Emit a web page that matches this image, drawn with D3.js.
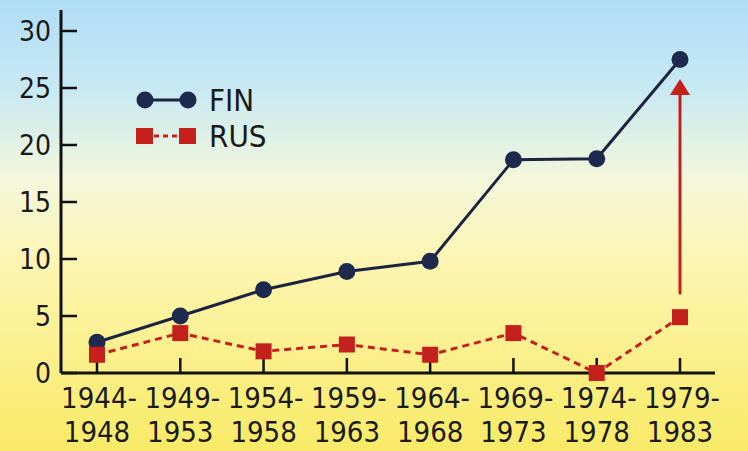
<!DOCTYPE html>
<html>
<head>
<meta charset="utf-8">
<script src="https://cdn.jsdelivr.net/npm/d3@7"></script>
<style>
  body { margin: 0; }
  text { font-family: "DejaVu Sans Condensed", "DejaVu Sans", sans-serif; fill: #1a1a1a; }
</style>
</head>
<body>
<div id="chart"></div>
<script>
// periods on the x axis, split in two lines
let periodStart = ["1944-", "1949-", "1954-", "1959-", "1964-", "1969-", "1974-", "1979-"];
let periodEnd = ["1948", "1953", "1958", "1963", "1968", "1973", "1978", "1983"];
let finValues = [2.7, 5.0, 7.3, 8.9, 9.8, 18.7, 18.8, 27.5];
let rusValues = [1.6, 3.5, 1.9, 2.5, 1.6, 3.5, 0, 4.9];
let yTicks = [0, 5, 10, 15, 20, 25, 30];
// red arrow over the last period (from, to)
let arrowRange = [6.9, 25.8];

let width = 748, height = 451;
let margin = {top: 10, right: 33, bottom: 78, left: 61};

let svg = d3.select("#chart").append("svg")
	.attr("width", width)
	.attr("height", height);

// background gradient
let grad = svg.append("defs").append("linearGradient")
	.attr("id", "bg")
	.attr("x1", 0).attr("y1", 0).attr("x2", 0).attr("y2", 1);
grad.append("stop").attr("offset", "0%").attr("stop-color", "#b0ddf6");
grad.append("stop").attr("offset", "20%").attr("stop-color", "#c8e9f3");
grad.append("stop").attr("offset", "40%").attr("stop-color", "#f4f7da");
grad.append("stop").attr("offset", "60%").attr("stop-color", "#fdf5ae");
grad.append("stop").attr("offset", "100%").attr("stop-color", "#f8ea66");

svg.append("rect")
	.attr("width", width)
	.attr("height", height)
	.attr("fill", "url(#bg)");

let g = svg.append("g")
	.attr("transform", "translate(" + margin.left + "," + margin.top + ")");

let innerW = width - margin.left - margin.right;

let x = d3.scalePoint()
	.domain(d3.range(periodStart.length))
	.range([36, 619]);
let y = d3.scaleLinear()
	.domain([0, 30])
	.range([363, 21]);

// y axis
let yAxis = g.append("g").attr("class", "y-axis");
yAxis.append("line")
	.attr("x1", 0).attr("x2", 0)
	.attr("y1", 0).attr("y2", y(0))
	.attr("stroke", "#111").attr("stroke-width", 3);
yAxis.selectAll("line.tick")
	.data(yTicks)
	.enter()
	.append("line")
	.attr("class", "tick")
	.attr("x1", 0).attr("x2", 16)
	.attr("y1", d => y(d)).attr("y2", d => y(d))
	.attr("stroke", "#111").attr("stroke-width", 2.5);
yAxis.selectAll("text")
	.data(yTicks)
	.enter()
	.append("text")
	.attr("x", -10)
	.attr("y", d => y(d))
	.attr("dy", "0.36em")
	.attr("text-anchor", "end")
	.attr("font-size", 28)
	.text(d => d);

// x axis
let xAxis = g.append("g").attr("class", "x-axis");
xAxis.append("line")
	.attr("x1", 0).attr("x2", innerW)
	.attr("y1", y(0)).attr("y2", y(0))
	.attr("stroke", "#111").attr("stroke-width", 3);
xAxis.selectAll("line.tick")
	.data(periodStart)
	.enter()
	.append("line")
	.attr("class", "tick")
	.attr("x1", (d, i) => x(i)).attr("x2", (d, i) => x(i))
	.attr("y1", y(0)).attr("y2", y(0) - 15)
	.attr("stroke", "#111").attr("stroke-width", 2.5);
xAxis.selectAll("text.start")
	.data(periodStart)
	.enter()
	.append("text")
	.attr("class", "start")
	.attr("x", (d, i) => x(i) + 2)
	.attr("y", y(0) + 35)
	.attr("text-anchor", "middle")
	.attr("font-size", 29)
	.text(d => d);
xAxis.selectAll("text.end")
	.data(periodEnd)
	.enter()
	.append("text")
	.attr("class", "end")
	.attr("x", (d, i) => x(i))
	.attr("y", y(0) + 69)
	.attr("text-anchor", "middle")
	.attr("font-size", 29)
	.text(d => d);

// FIN line
let line = d3.line()
	.x((d, i) => x(i))
	.y(d => y(d));
g.append("path")
	.datum(finValues)
	.attr("d", line)
	.attr("fill", "none")
	.attr("stroke", "#1c2340")
	.attr("stroke-width", 3);
g.selectAll("circle.fin")
	.data(finValues)
	.enter()
	.append("circle")
	.attr("class", "fin")
	.attr("cx", (d, i) => x(i))
	.attr("cy", d => y(d))
	.attr("r", 8.5)
	.attr("fill", "#1d2a4e");

// arrow: shaft and head
let ax = x(periodStart.length - 1);
let tipY = y(arrowRange[1]);
g.append("line")
	.attr("x1", ax).attr("x2", ax)
	.attr("y1", y(arrowRange[0])).attr("y2", tipY + 14)
	.attr("stroke", "#c4201c")
	.attr("stroke-width", 3);
g.append("path")
	.attr("d", "M" + ax + "," + tipY + " L" + (ax + 10) + "," + (tipY + 16) + " L" + (ax - 10) + "," + (tipY + 16) + " Z")
	.attr("fill", "#c4201c");

// RUS line
g.append("path")
	.datum(rusValues)
	.attr("d", line)
	.attr("fill", "none")
	.attr("stroke", "#c4201c")
	.attr("stroke-width", 3)
	.attr("stroke-dasharray", "7,5");
g.selectAll("rect.rus")
	.data(rusValues)
	.enter()
	.append("rect")
	.attr("class", "rus")
	.attr("x", (d, i) => x(i) - 8)
	.attr("y", d => y(d) - 8)
	.attr("width", 16)
	.attr("height", 16)
	.attr("fill", "#c4201c");

// legend
let legend = svg.append("g").attr("transform", "translate(145,100)");
legend.append("line")
	.attr("x1", 0).attr("x2", 43).attr("y1", 0).attr("y2", 0)
	.attr("stroke", "#1c2340").attr("stroke-width", 3);
legend.selectAll("circle")
	.data([0, 43])
	.enter()
	.append("circle")
	.attr("cx", d => d).attr("cy", 0).attr("r", 8.5)
	.attr("fill", "#1d2a4e");
legend.append("text")
	.attr("x", 64).attr("y", 0).attr("dy", "0.36em")
	.attr("font-size", 31)
	.text("FIN");
legend.append("line")
	.attr("x1", 0).attr("x2", 43).attr("y1", 36).attr("y2", 36)
	.attr("stroke", "#c4201c").attr("stroke-width", 3)
	.attr("stroke-dasharray", "5,4");
legend.selectAll("rect")
	.data([0, 43])
	.enter()
	.append("rect")
	.attr("x", d => d - 9).attr("y", 28).attr("width", 17).attr("height", 16)
	.attr("fill", "#c4201c");
legend.append("text")
	.attr("x", 64).attr("y", 36).attr("dy", "0.36em")
	.attr("font-size", 31)
	.text("RUS");
</script>
</body>
</html>
